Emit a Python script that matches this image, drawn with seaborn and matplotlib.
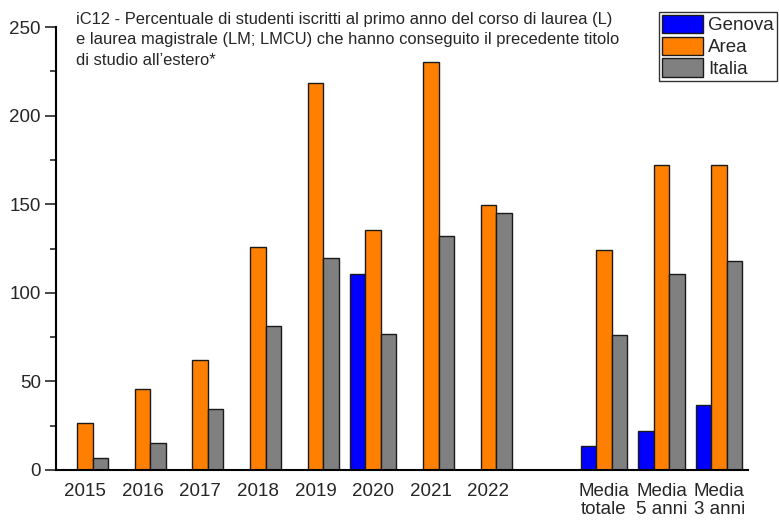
import numpy as np
import pandas as pd
import matplotlib
matplotlib.use('Agg')
import matplotlib.pyplot as plt
import seaborn as sns

# Data
categories = ['2015', '2016', '2017', '2018', '2019', '2020', '2021', '2022',
              ' ', 'Media\ntotale', 'Media\n5 anni', 'Media\n3 anni']
genova = [np.nan, np.nan, np.nan, np.nan, np.nan, 110.6, np.nan, np.nan,
          np.nan, 13.5, 22.0, 36.7]
area = [26.7, 45.8, 62.3, 126.0, 218.2, 135.6, 230.5, 149.8,
        np.nan, 124.3, 172.1, 172.1]
italia = [7.0, 15.0, 34.2, 81.4, 119.4, 76.7, 132.3, 144.8,
          np.nan, 76.3, 110.8, 117.9]
series = ['Genova', 'Area', 'Italia']
colors = ['#0000FF', '#FF8000', '#808080']

title = ("iC12 - Percentuale di studenti iscritti al primo anno del corso di laurea (L)\n"
         "e laurea magistrale (LM; LMCU) che hanno conseguito il precedente titolo\n"
         "di studio all\u2019estero*")

df = pd.DataFrame({
    'categoria': categories * 3,
    'serie': [s for s in series for _ in categories],
    'valore': genova + area + italia,
})

sns.set_style('white')
plt.rcParams['font.family'] = ['Liberation Sans', 'DejaVu Sans']

fig = plt.figure(figsize=(7.79, 5.2), dpi=100)
ax = fig.add_axes([56 / 779, 50 / 520, 692 / 779, 443 / 520])

sns.barplot(data=df, x='categoria', y='valore', hue='serie', order=categories,
            hue_order=series, palette=colors, width=0.8, edgecolor='#1a1a1a',
            linewidth=1.0, ax=ax, errorbar=None, saturation=1)

ax.set_xlim(-0.5, len(categories) - 0.5)
ax.set_ylim(0, 250)
ax.set_yticks([0, 50, 100, 150, 200, 250])
ax.set_yticks(np.arange(25, 250, 50), minor=True)
ax.set_xlabel('')
ax.set_ylabel('')
ax.tick_params(axis='y', which='major', direction='out', length=8, width=1.2,
               labelsize=13.5, left=True, pad=3)
ax.tick_params(axis='y', which='minor', direction='out', length=4, width=1.2, left=True)
ax.tick_params(axis='x', length=0, labelsize=13.5, pad=9)
for lbl in ax.get_xticklabels():
    lbl.set_linespacing(1.12)
    lbl.set_verticalalignment('top')

sns.despine(ax=ax, top=True, right=True)
for side in ['left', 'bottom']:
    ax.spines[side].set_linewidth(1.5)
    ax.spines[side].set_color('black')

handles, labels = ax.get_legend_handles_labels()
ax.get_legend().remove()
leg = fig.legend(handles, labels, loc='upper right',
                 bbox_to_anchor=(777 / 779, 1 - 12 / 520),
                 bbox_transform=fig.transFigure, borderaxespad=0,
                 fontsize=13.5, frameon=True, fancybox=False,
                 handlelength=2.2, handleheight=1.12, handletextpad=0.3,
                 labelspacing=0.12, borderpad=0.15)
leg.get_frame().set_edgecolor('black')
leg.get_frame().set_linewidth(1.0)

fig.text(76 / 779, 1 - 12 / 520, title, fontsize=11.9, va='top', ha='left',
         linespacing=1.45)

fig.savefig('out.png', dpi=100)
